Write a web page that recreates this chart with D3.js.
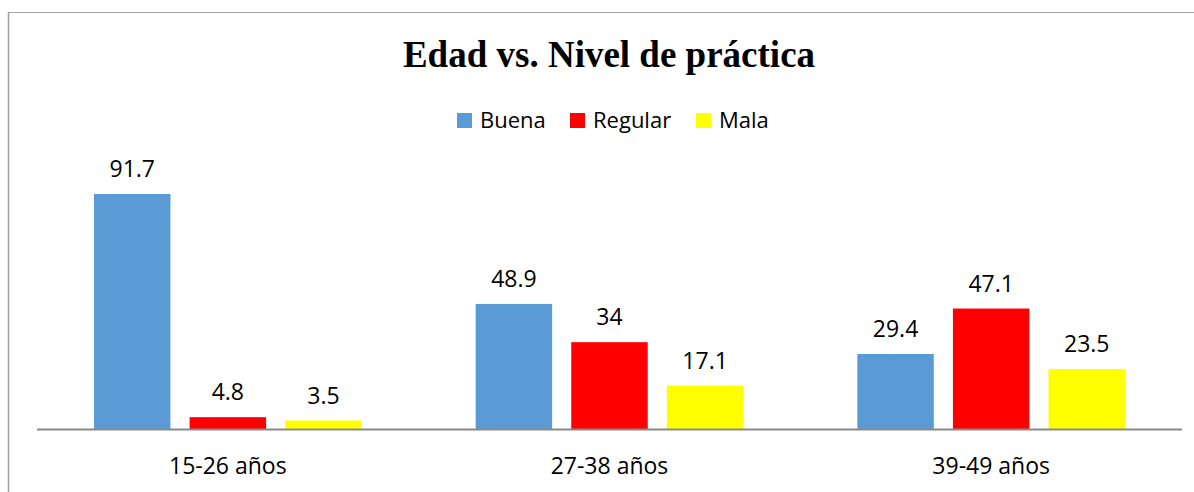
<!DOCTYPE html>
<html>
<head>
<meta charset="utf-8">
<script src="https://cdn.jsdelivr.net/npm/d3@7"></script>
<style>
  html, body { margin: 0; padding: 0; background: #fff; }
  svg { display: block; }
</style>
</head>
<body>
<svg id="chart" width="1194" height="492"></svg>
<script>
// Age groups and practice levels (percent)
const categories = ["15-26 años", "27-38 años", "39-49 años"];
const seriesNames = ["Buena", "Regular", "Mala"];
const seriesColors = ["#5b9bd5", "#ff0000", "#ffff00"];
const buena = [91.7, 48.9, 29.4];
const regular = [4.8, 34, 47.1];
const mala = [3.5, 17.1, 23.5];
const title = "Edad vs. Nivel de práctica";

const seriesValues = [buena, regular, mala];
const rows = categories.map((c, i) => ({
  category: c,
  values: seriesNames.map((s, j) => ({ key: s, value: seriesValues[j][i], color: seriesColors[j] }))
}));

const svg = d3.select("#chart");
const W = 1194, H = 492;
const labelFont = "'Open Sans', 'Noto Sans', sans-serif";

// Chart frame (top and left edges visible in the frame)
svg.append("line").attr("x1", 8.5).attr("x2", W).attr("y1", 12.5).attr("y2", 12.5)
  .attr("stroke", "#a0a0a0").attr("stroke-width", 1);
svg.append("line").attr("x1", 8.5).attr("x2", 8.5).attr("y1", 12).attr("y2", H)
  .attr("stroke", "#a0a0a0").attr("stroke-width", 1.5);

// Plot area
const plotLeft = 37, plotRight = 1182, baseY = 429.5;
const x0 = d3.scaleBand().domain(categories).range([plotLeft, plotRight]).paddingInner(0).paddingOuter(0);
const x1 = d3.scaleBand().domain(seriesNames).range([57, x0.bandwidth() - 57]).paddingInner(0.2).paddingOuter(0);
const y = d3.scaleLinear().domain([0, 100]).range([baseY, baseY - 256.8]);

// Title
svg.append("text")
  .attr("x", 609).attr("y", 67)
  .attr("text-anchor", "middle")
  .attr("font-family", "'Liberation Serif', 'Times New Roman', serif")
  .attr("font-weight", "bold")
  .attr("font-size", 37)
  .attr("fill", "#000")
  .text(title);

// Legend
const legendItems = [
  { name: "Buena", x: 457 },
  { name: "Regular", x: 570 },
  { name: "Mala", x: 696 }
];
const legend = svg.append("g");
legendItems.forEach((d, i) => {
  legend.append("rect").attr("x", d.x).attr("y", 113).attr("width", 15).attr("height", 15)
    .attr("fill", seriesColors[seriesNames.indexOf(d.name)]);
  legend.append("text").attr("x", d.x + 23).attr("y", 127.5)
    .attr("font-family", labelFont).attr("font-size", 22).attr("fill", "#000")
    .text(d.name);
});

// Bars and value labels
const groups = svg.append("g").selectAll("g").data(rows).join("g")
  .attr("transform", d => `translate(${x0(d.category)},0)`);

groups.selectAll("rect").data(d => d.values).join("rect")
  .attr("x", d => x1(d.key))
  .attr("y", d => y(d.value))
  .attr("width", x1.bandwidth())
  .attr("height", d => baseY - y(d.value))
  .attr("fill", d => d.color);

groups.selectAll("text").data(d => d.values).join("text")
  .attr("x", d => x1(d.key) + x1.bandwidth() / 2)
  .attr("y", d => y(d.value) - 17)
  .attr("text-anchor", "middle")
  .attr("font-family", labelFont)
  .attr("font-size", 23)
  .attr("fill", "#000")
  .text(d => d3.format("")(d.value));

// Category axis
const xAxis = svg.append("g").attr("transform", `translate(0,${baseY})`)
  .call(d3.axisBottom(x0).tickSize(0).tickPadding(0));
xAxis.select(".domain").attr("stroke", "#898989").attr("stroke-width", 2)
  .attr("d", `M${plotLeft},0H${plotRight}`);
xAxis.selectAll(".tick text")
  .attr("y", 44).attr("dy", 0)
  .attr("font-family", labelFont)
  .attr("font-size", 23)
  .attr("fill", "#000");
</script>
</body>
</html>
